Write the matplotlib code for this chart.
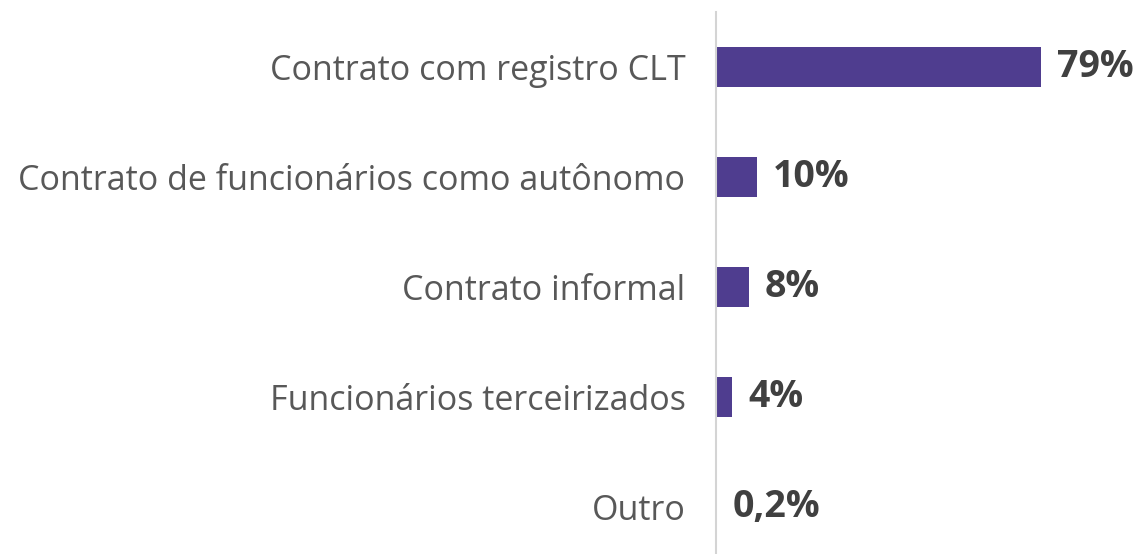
import matplotlib
matplotlib.use('Agg')
import matplotlib.pyplot as plt

categorias = [
    'Contrato com registro CLT',
    'Contrato de funcionários como autônomo',
    'Contrato informal',
    'Funcionários terceirizados',
    'Outro',
]
valores = [79, 10, 8, 4, 0.2]
rotulos = ['79%', '10%', '8%', '4%', '0,2%']

ROXO = '#4f3d8f'
CINZA_TXT = '#585858'
CINZA_VAL = '#404040'

fig = plt.figure(figsize=(11.43, 5.54), dpi=100)
ax = fig.add_axes([716 / 1143, 0, 1 - 716 / 1143, 542 / 554])

px_por_pct = 325 / 79
pos = list(range(len(categorias)))
ax.barh(pos, valores, height=0.355, color=ROXO)

ax.set_xlim(0, (1143 - 716) / px_por_pct)
ax.set_ylim(4.427, -0.5)

for y, v, r in zip(pos, valores, rotulos):
    ax.text(v + 16 / px_por_pct, y, r, ha='left', va='center',
            fontsize=27, fontweight='bold', color=CINZA_VAL,
            family='Open Sans')

ax.set_yticks(pos)
ax.set_yticklabels(categorias, fontsize=24.5, color=CINZA_TXT, family='Open Sans')
ax.tick_params(axis='y', length=0, pad=22)
ax.set_xticks([])

for s in ['top', 'right', 'bottom']:
    ax.spines[s].set_visible(False)
ax.spines['left'].set_color('#d4d4d4')
ax.spines['left'].set_linewidth(1.5)

fig.savefig('out.png', dpi=100)
